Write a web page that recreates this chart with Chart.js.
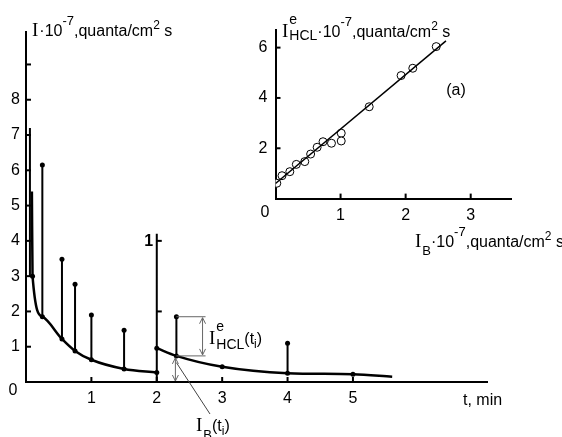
<!DOCTYPE html>
<html>
<head>
<meta charset="utf-8">
<script src="https://cdn.jsdelivr.net/npm/chart.js@4.4.0/dist/chart.umd.min.js"></script>
<style>
  html, body { margin: 0; padding: 0; background: #fff; }
  #wrap { position: relative; width: 562px; height: 437px; }
  #wrap canvas { position: absolute; left: 0; top: 0; }
</style>
</head>
<body>
<div id="wrap">
  <canvas id="grafico" width="562" height="437"></canvas>
  <canvas id="inset" width="562" height="437"></canvas>
</div>
<script>
// Curva I_B(t) antes e depois do salto em t = 2 min
const tCurva1 = [0.09, 0.1, 0.25, 0.55, 0.75, 1.0, 1.5, 2.0];
const iCurva1 = [5.4, 3.0, 1.85, 1.22, 0.88, 0.63, 0.37, 0.27];
const tCurva2 = [2.0, 2.3, 3.0, 4.0, 5.0, 5.6];
const iCurva2 = [0.96, 0.74, 0.43, 0.25, 0.22, 0.15];

// Picos verticais (base -> topo)
const picoT = [0.06, 0.25, 0.55, 0.75, 1.0, 1.5, 2.0, 2.3, 4.0];
const picoBase = [3.0, 1.85, 1.22, 0.88, 0.63, 0.37, 0, 0.74, 0.25];
const picoTopo = [7.2, 6.15, 3.48, 2.77, 1.9, 1.47, 4.2, 1.85, 1.1];
const picoPonto = [false, true, true, true, true, true, false, true, true];

// Ticks
const ticksX = [1, 2, 3, 4, 5];
const ticksY = [1, 2, 3, 4, 5, 6, 7, 8];

// Grafico (a): I_HCL^e vs I_B
const insetX = [0.02, 0.1, 0.22, 0.32, 0.45, 0.54, 0.64, 0.73, 0.86, 1.01, 1.01, 1.44, 1.93, 2.11, 2.47];
const insetY = [0.61, 0.91, 1.07, 1.36, 1.47, 1.77, 2.04, 2.26, 2.2, 2.6, 2.29, 3.65, 4.89, 5.18, 6.04];
const ajusteX = [0, 2.62];
const ajusteY = [0.6, 6.27];
const insetTicksX = [1, 2, 3];
const insetTicksY = [2, 4, 6];

const FONTE = '"Liberation Sans", Arial, sans-serif';
const SERIFA = '"Liberation Serif", "Times New Roman", serif';

function linha(ctx, x1, y1, x2, y2) {
    ctx.beginPath();
    ctx.moveTo(x1, y1);
    ctx.lineTo(x2, y2);
    ctx.stroke();
}

function seta(ctx, x, y, dir) {
    // ponta de seta aberta, dir = -1 para cima, 1 para baixo
    ctx.beginPath();
    ctx.moveTo(x - 3, y - dir * 6);
    ctx.lineTo(x, y);
    ctx.lineTo(x + 3, y - dir * 6);
    ctx.stroke();
}

// Desenha texto em partes (com sobrescrito / subscrito)
function textoRico(ctx, x, y, partes) {
    ctx.textAlign = 'left';
    ctx.textBaseline = 'alphabetic';
    let cx = x;
    for (const p of partes) {
        ctx.font = p.f;
        ctx.fillText(p.t, cx, y + (p.dy || 0));
        if (!p.stack) cx += ctx.measureText(p.t).width + (p.gap || 0);
    }
    return cx;
}

function tituloUnidade(ctx, x, y) {
    return textoRico(ctx, x, y, [
        { t: '\u00b710', f: '16px ' + FONTE },
        { t: '-7', f: '13px ' + FONTE, dy: -11 },
        { t: ',quanta/cm', f: '16px ' + FONTE },
        { t: '2', f: '12px ' + FONTE, dy: -7 },
        { t: ' s', f: '16px ' + FONTE }
    ]);
}

function montarPicos() {
    const dados = [];
    for (let i = 0; i < picoT.length; i++) {
        dados.push({ x: picoT[i], y: picoBase[i], dot: false });
        dados.push({ x: picoT[i], y: picoTopo[i], dot: picoPonto[i] });
        dados.push({ x: picoT[i], y: null, dot: false });
    }
    return dados;
}

const anotacoes = {
    id: 'anotacoes',
    afterDraw(chart) {
        const { ctx, scales: { x, y }, chartArea: a } = chart;
        ctx.save();
        ctx.strokeStyle = '#000';
        ctx.fillStyle = '#000';
        ctx.lineWidth = 2;
        // marcas dos eixos (para dentro)
        for (let v = 1; v <= 9; v++) {
            const py = y.getPixelForValue(v);
            linha(ctx, a.left, py, a.left + 5, py);
        }
        ticksX.forEach(v => {
            const px = x.getPixelForValue(v);
            linha(ctx, px, a.bottom, px, a.bottom - 5);
        });
        // escala auxiliar em t = 2
        const x2 = x.getPixelForValue(2);
        linha(ctx, x2, y.getPixelForValue(4), x2 + 5, y.getPixelForValue(4));
        linha(ctx, x2, y.getPixelForValue(2), x2 + 5, y.getPixelForValue(2));
        ctx.font = 'bold 16px ' + FONTE;
        ctx.textAlign = 'center';
        ctx.textBaseline = 'middle';
        ctx.fillText('1', x2 - 8, y.getPixelForValue(4) + 1);

        ctx.font = '16px ' + FONTE;
        ctx.fillText('0', 13, a.bottom + 9);

        // titulo do eixo y
        ctx.fillStyle = '#000';
        let cx = textoRico(ctx, 32, 36, [{ t: 'I', f: '19px ' + SERIFA, gap: 1 }]);
        tituloUnidade(ctx, cx, 36);

        // titulo do eixo x
        ctx.font = '16px ' + FONTE;
        ctx.textAlign = 'left';
        ctx.textBaseline = 'alphabetic';
        ctx.fillText('t, min', 463, 405);

        // cota I_HCL^e
        const xa = x.getPixelForValue(2.3);
        const yTopo = y.getPixelForValue(1.85);
        const yBase = y.getPixelForValue(0.74);
        const xb = x.getPixelForValue(2.7);
        ctx.strokeStyle = '#666';
        ctx.lineWidth = 1;
        linha(ctx, xa, yTopo, xb + 3, yTopo);
        linha(ctx, xa, yBase, xb + 3, yBase);
        linha(ctx, xb, yTopo + 1, xb, yBase - 1);
        seta(ctx, xb, yTopo + 1, -1);
        seta(ctx, xb, yBase - 1, 1);
        // cota I_B
        linha(ctx, xa - 1, yBase + 2, xa - 1, a.bottom - 1);
        seta(ctx, xa - 1, yBase + 2, -1);
        seta(ctx, xa - 1, a.bottom - 1, 1);
        ctx.strokeStyle = '#444';
        linha(ctx, xa, y.getPixelForValue(0.55), 210, 414);

        ctx.fillStyle = '#000';
        textoRico(ctx, 209, 344, [
            { t: 'I', f: '19px ' + SERIFA, gap: 1 },
            { t: 'e', f: '14px ' + FONTE, dy: -13, stack: true },
            { t: 'HCL', f: '14px ' + FONTE, dy: 5 },
            { t: '(t', f: '16px ' + FONTE },
            { t: 'i', f: '12px ' + FONTE, dy: 4 },
            { t: ')', f: '16px ' + FONTE }
        ]);
        textoRico(ctx, 196, 431, [
            { t: 'I', f: '19px ' + SERIFA, gap: 1 },
            { t: 'B', f: '13px ' + FONTE, dy: 8 },
            { t: '(t', f: '16px ' + FONTE },
            { t: 'i', f: '12px ' + FONTE, dy: 4 },
            { t: ')', f: '16px ' + FONTE }
        ]);
        ctx.restore();
    }
};

const anotacoesInset = {
    id: 'anotacoesInset',
    afterDraw(chart) {
        const { ctx, scales: { x, y }, chartArea: a } = chart;
        ctx.save();
        ctx.strokeStyle = '#000';
        ctx.fillStyle = '#000';
        ctx.lineWidth = 2;
        insetTicksY.forEach(v => {
            const py = y.getPixelForValue(v);
            linha(ctx, a.left, py, a.left + 5, py);
        });
        insetTicksX.forEach(v => {
            const px = x.getPixelForValue(v);
            linha(ctx, px, a.bottom, px, a.bottom - 5);
        });
        ctx.font = '16px ' + FONTE;
        ctx.textAlign = 'center';
        ctx.textBaseline = 'middle';
        ctx.fillText('0', 265, 213);
        ctx.fillText('(a)', 456, 91);

        // titulo y
        let cx = textoRico(ctx, 282, 37, [
            { t: 'I', f: '19px ' + SERIFA, gap: 1 },
            { t: 'e', f: '14px ' + FONTE, dy: -13, stack: true },
            { t: 'HCL', f: '14px ' + FONTE, dy: 3 }
        ]);
        tituloUnidade(ctx, cx, 37);
        // titulo x
        cx = textoRico(ctx, 415, 247, [
            { t: 'I', f: '19px ' + SERIFA, gap: 1 },
            { t: 'B', f: '13px ' + FONTE, dy: 8 }
        ]);
        tituloUnidade(ctx, cx, 247);
        ctx.restore();
    }
};

function eixo(min, max, tamanho, lista, padding, lado) {
    return {
        type: 'linear',
        min: min,
        max: max,
        afterFit: s => { s[lado] = tamanho; },
        afterBuildTicks: s => { s.ticks = lista.map(v => ({ value: v })); },
        grid: { display: false, drawTicks: false },
        border: { display: true, color: '#000', width: 2 },
        ticks: {
            autoSkip: false,
            maxRotation: 0,
            padding: padding,
            color: '#000',
            font: { family: FONTE, size: 16 },
            callback: v => String(v)
        }
    };
}

function gerarGrafico() {
    const ctx = document.getElementById('grafico').getContext('2d');
    new Chart(ctx, {
        type: 'scatter',
        data: {
            datasets: [
                {
                    data: montarPicos(),
                    showLine: true,
                    spanGaps: false,
                    borderColor: '#000',
                    backgroundColor: '#000',
                    borderWidth: 2,
                    pointRadius: c => (c.raw && c.raw.dot) ? 2.5 : 0,
                    pointBorderWidth: 0
                },
                {
                    data: tCurva1.map((t, i) => ({ x: t, y: iCurva1[i] })),
                    showLine: true,
                    cubicInterpolationMode: 'monotone',
                    borderColor: '#000',
                    backgroundColor: '#000',
                    borderWidth: 2.5,
                    pointRadius: tCurva1.map((t, i) => i === 0 ? 0 : 2.5),
                    pointBorderWidth: 0
                },
                {
                    data: tCurva2.map((t, i) => ({ x: t, y: iCurva2[i] })),
                    showLine: true,
                    cubicInterpolationMode: 'monotone',
                    borderColor: '#000',
                    backgroundColor: '#000',
                    borderWidth: 2.5,
                    pointRadius: tCurva2.map((t, i) => i === tCurva2.length - 1 ? 0 : 2.5),
                    pointBorderWidth: 0
                }
            ]
        },
        options: {
            responsive: false,
            animation: false,
            layout: { padding: { left: 0, top: 32, right: 75, bottom: 0 } },
            plugins: { legend: { display: false }, tooltip: { enabled: false } },
            scales: {
                x: eixo(0, 7.05, 55, ticksX, 7, 'height'),
                y: eixo(0, 9.92, 26, ticksY, 6, 'width')
            }
        },
        plugins: [anotacoes]
    });
}

function gerarInset() {
    const ctx = document.getElementById('inset').getContext('2d');
    new Chart(ctx, {
        type: 'scatter',
        data: {
            datasets: [
                {
                    data: ajusteX.map((v, i) => ({ x: v, y: ajusteY[i] })),
                    showLine: true,
                    borderColor: '#000',
                    borderWidth: 1.5,
                    pointRadius: 0
                },
                {
                    data: insetX.map((v, i) => ({ x: v, y: insetY[i] })),
                    showLine: false,
                    pointRadius: 4,
                    pointBorderWidth: 1,
                    borderColor: '#000',
                    backgroundColor: '#fff'
                }
            ]
        },
        options: {
            responsive: false,
            animation: false,
            layout: { padding: { left: 249.5, top: 30, right: 50.3, bottom: 198.4 } },
            plugins: { legend: { display: false }, tooltip: { enabled: false } },
            scales: {
                x: eixo(0, 3.63, 40, insetTicksX, 7, 'height'),
                y: eixo(0, 6.7, 26, insetTicksY, 8, 'width')
            }
        },
        plugins: [anotacoesInset]
    });
}

gerarGrafico();
gerarInset();
</script>
</body>
</html>
